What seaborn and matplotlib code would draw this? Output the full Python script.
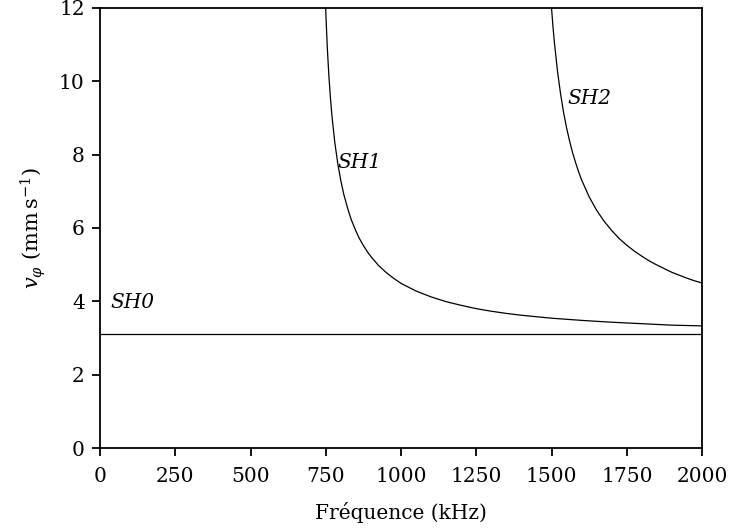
import numpy as np
import pandas as pd
import seaborn as sns
import matplotlib
matplotlib.use("Agg")
import matplotlib.pyplot as plt

# values (frequency in kHz, phase velocity)
freq_sh0 = [0, 2000]
vphi_sh0 = [3.1, 3.1]

freq_sh1 = [749, 755, 760, 765, 770, 780, 790, 800, 810, 825, 835, 850, 860, 875,
            890, 900, 925, 950, 975, 1000, 1050, 1100, 1150, 1200, 1250, 1300,
            1350, 1400, 1500, 1600, 1700, 1800, 1900, 2000]
vphi_sh1 = [12.10, 10.93, 10.19, 9.60, 9.10, 8.33, 7.75, 7.29, 6.91, 6.47, 6.22, 5.92,
            5.74, 5.52, 5.33, 5.22, 4.98, 4.79, 4.63, 4.49, 4.28, 4.12, 3.99, 3.89,
            3.80, 3.73, 3.67, 3.62, 3.54, 3.48, 3.43, 3.39, 3.35, 3.33]

freq_sh2 = [1499, 1505, 1510, 1520, 1530, 1540, 1550, 1560, 1570, 1580, 1590, 1600,
            1625, 1650, 1675, 1700, 1725, 1750, 1775, 1800, 1825, 1850, 1875, 1900,
            1925, 1950, 1975, 2000]
vphi_sh2 = [12.10, 11.47, 11.02, 10.26, 9.66, 9.15, 8.73, 8.37, 8.05, 7.78, 7.53, 7.31,
            6.85, 6.48, 6.18, 5.93, 5.71, 5.53, 5.37, 5.23, 5.10, 4.99, 4.89, 4.79,
            4.71, 4.63, 4.56, 4.50]

mode_names = ["SH0", "SH1", "SH2"]
label_pos = [(33, 3.96), (790, 7.78), (1554, 9.52)]

x_ticks = [0, 250, 500, 750, 1000, 1250, 1500, 1750, 2000]
y_ticks = [0, 2, 4, 6, 8, 10, 12]

sns.set_theme(style="ticks")
plt.rcParams['font.family'] = ['DejaVu Serif']
plt.rcParams['mathtext.fontset'] = 'dejavuserif'

fs = 14.5
fig = plt.figure(figsize=(7.3, 5.3), dpi=100)
ax = fig.add_axes([0.137, 0.1547, 0.8247, 0.8303])

for fx, vy in [(freq_sh0, vphi_sh0), (freq_sh1, vphi_sh1), (freq_sh2, vphi_sh2)]:
    sns.lineplot(x=fx, y=vy, color="black", linewidth=0.9, ax=ax)

for name, (px, py) in zip(mode_names, label_pos):
    ax.text(px, py, name, fontsize=fs, style="italic", va="center", ha="left",
            color="black")

ax.set_xlim(0, 2000)
ax.set_ylim(0, 12)
ax.set_xticks(x_ticks)
ax.set_yticks(y_ticks)
ax.tick_params(axis="both", labelsize=fs, width=1.3, length=6, color="black",
               labelcolor="black", direction="out")
ax.tick_params(axis="x", pad=8)
ax.tick_params(axis="y", pad=5)
for side in ["left", "right", "top", "bottom"]:
    ax.spines[side].set_visible(True)
    ax.spines[side].set_linewidth(1.3)
    ax.spines[side].set_color("black")

ax.set_xlabel("Fréquence (kHz)", fontsize=fs, color="black", labelpad=11)
ax.set_ylabel(r"$v_{\varphi}$ (mm$\,$s$^{-1}$)", fontsize=15, color="black",
              labelpad=8)

fig.savefig("out.png", dpi=100)
